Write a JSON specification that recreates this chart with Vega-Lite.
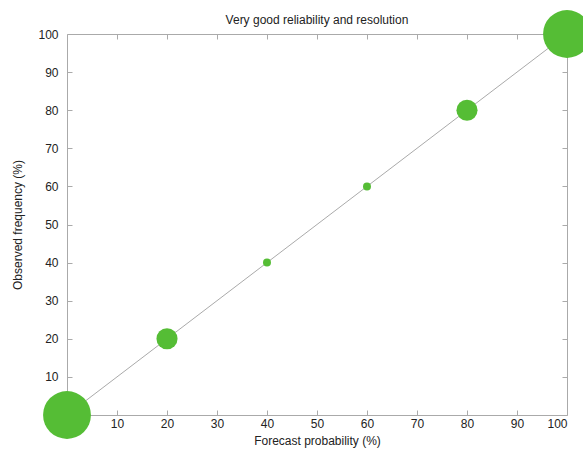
{
  "$schema": "https://vega.github.io/schema/vega-lite/v6.json",
  "width": 500,
  "height": 381,
  "autosize": {"type": "none"},
  "padding": {"left": 67, "top": 34, "right": 16, "bottom": 39},
  "background": "white",
  "title": {"text": "Very good reliability and resolution", "fontSize": 12, "fontWeight": "normal", "font": "Liberation Sans", "color": "#222", "anchor": "middle", "offset": -17},
  "config": {
    "view": {"stroke": null},
    "axis": {"grid": false, "domainColor": "#aaa", "tickColor": "#aaa", "tickSize": -5, "labelFont": "Liberation Sans", "labelFontSize": 12, "labelColor": "#222", "titleFont": "Liberation Sans", "titleFontSize": 12, "titleFontWeight": "normal", "titleColor": "#222"}
  },
  "data": {"values": [
    {"forecast": 0, "observed": 0, "n": 36},
    {"forecast": 20, "observed": 20, "n": 7},
    {"forecast": 40, "observed": 40, "n": 1},
    {"forecast": 60, "observed": 60, "n": 1},
    {"forecast": 80, "observed": 80, "n": 7},
    {"forecast": 100, "observed": 100, "n": 36}
  ]},
  "resolve": {"axis": {"x": "independent", "y": "independent"}},
  "layer": [
    {
      "mark": {"type": "line", "color": "#aaa", "strokeWidth": 1},
      "encoding": {
        "x": {"field": "forecast", "type": "quantitative", "scale": {"domain": [0, 100], "nice": false}, "axis": {"orient": "top", "labels": false, "title": null, "values": [10,20,30,40,50,60,70,80,90]}},
        "y": {"field": "observed", "type": "quantitative", "scale": {"domain": [0, 100], "nice": false}, "axis": {"orient": "right", "labels": false, "title": null, "values": [10,20,30,40,50,60,70,80,90]}}
      }
    },
    {
      "mark": {"type": "circle", "color": "#55bd35", "opacity": 1, "clip": false},
      "encoding": {
        "x": {"field": "forecast", "type": "quantitative", "scale": {"domain": [0, 100], "nice": false}, "axis": {"orient": "bottom", "title": "Forecast probability (%)", "values": [10,20,30,40,50,60,70,80,90,100], "labelPadding": 8, "titlePadding": 6}},
        "y": {"field": "observed", "type": "quantitative", "scale": {"domain": [0, 100], "nice": false}, "axis": {"orient": "left", "title": "Observed frequency (%)", "values": [10,20,30,40,50,60,70,80,90,100], "labelPadding": 14, "titlePadding": 13}},
        "size": {"field": "n", "type": "quantitative", "scale": {"domain": [0, 36], "range": [0, 2290]}, "legend": null}
      }
    }
  ]
}
